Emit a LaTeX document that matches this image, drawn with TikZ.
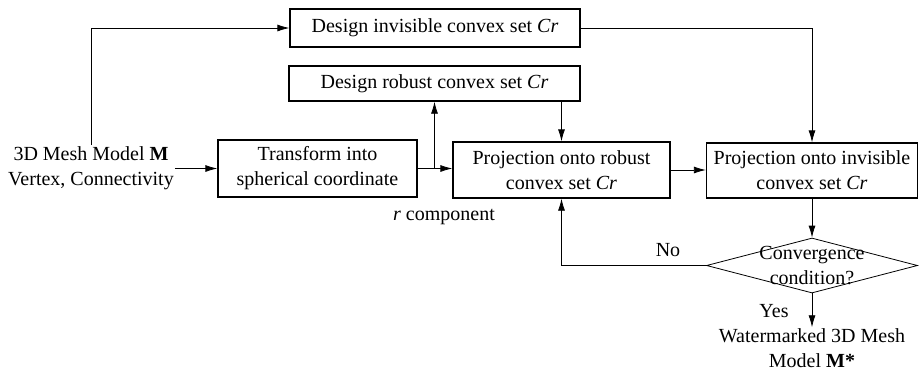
\documentclass[tikz,border=0pt]{standalone}
\usepackage{fontspec}
\setmainfont{Liberation Serif}
\usetikzlibrary{arrows.meta,shapes.geometric}
\begin{document}
\begin{tikzpicture}[x=1pt,y=-1pt,
  font=\fontsize{20}{25}\selectfont,
  box/.style={draw, line width=1.3pt, inner sep=0pt, align=center},
  lbl/.style={inner sep=1pt, align=center},
  conn/.style={line width=0.8pt},
  arr/.style={line width=0.8pt, -{Latex[length=12pt,width=7pt]}}]
\useasboundingbox (0,0) rectangle (920,373);

\node[lbl] (input) at (91,168) {3D Mesh Model \textbf{M}\\Vertex, Connectivity};
\node[box, minimum width=290pt, minimum height=38pt] (dinv) at (435,28) {Design invisible convex set \textit{Cr}};
\node[box, minimum width=291pt, minimum height=35pt] (drob) at (434.5,83.5) {Design robust convex set \textit{Cr}};
\node[box, minimum width=199pt, minimum height=57pt] (trans) at (317.5,168.5) {Transform into\\spherical coordinate};
\node[box, minimum width=217pt, minimum height=56pt] (prob) at (561.5,170) {Projection onto robust\\convex set \textit{Cr}};
\node[box, minimum width=211pt, minimum height=55pt] (pinv) at (812,170.5) {Projection onto invisible\\convex set \textit{Cr}};
\node[draw, diamond, line width=0.8pt, minimum width=211pt, minimum height=55pt, inner sep=0pt] (cond) at (812,265.5) {};
\node[lbl, inner sep=0pt] (condtxt) at (cond.center) {Convergence\\condition?};
\node[lbl] (out) at (812,348) {Watermarked 3D Mesh\\Model \textbf{M*}};
\node[lbl] (rcomp) at (444,217) {\textit{r} component};
\node[lbl] (no) at (668,250) {No};
\node[lbl] (yes) at (774,311) {Yes};

\coordinate (j) at (drob.south |- trans.east);

\draw[arr] (input.north) |- (dinv.west);
\draw[arr] (input.east |- trans.west) -- (trans.west);
\draw[conn] (trans.east) -- (j);
\draw[arr] (j) -- (j -| prob.west);
\draw[arr] (j) -- (drob.south);
\draw[arr] (prob.north |- drob.south) -- (prob.north);
\draw[arr] (dinv.east) -| (pinv.north);
\draw[arr] (prob.east) -- (prob.east -| pinv.west);
\draw[arr] (pinv.south) -- (cond.north);
\draw[arr] (cond.west) -| (prob.south);
\draw[arr] (cond.south) -- (out.north);
\end{tikzpicture}
\end{document}
